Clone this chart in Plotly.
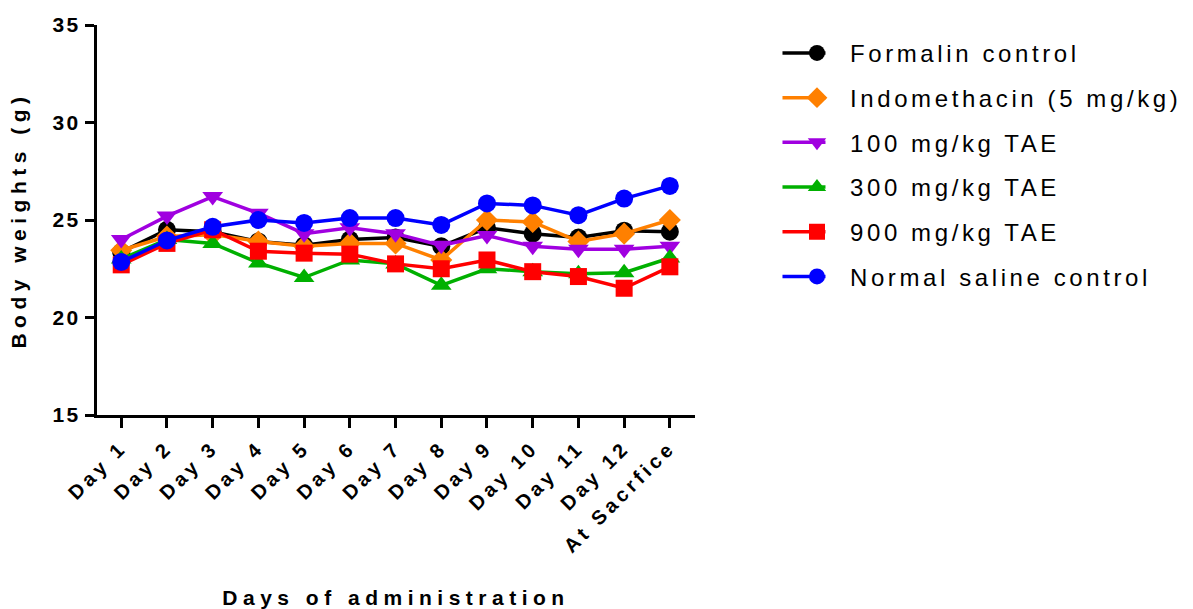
import plotly.graph_objects as go

categories = ["Day 1", "Day 2", "Day 3", "Day 4", "Day 5", "Day 6", "Day 7",
              "Day 8", "Day 9", "Day 10", "Day 11", "Day 12", "At Sacrfice"]

formalin = [23.35, 24.5, 24.4, 23.9, 23.7, 24.0, 24.1, 23.65, 24.6, 24.3, 24.1, 24.45, 24.4]
indomethacin = [23.45, 24.15, 24.25, 23.9, 23.65, 23.8, 23.8, 22.95, 25.0, 24.9, 23.9, 24.3, 25.0]
tae100 = [24.0, 25.2, 26.2, 25.35, 24.3, 24.6, 24.3, 23.7, 24.2, 23.65, 23.5, 23.5, 23.65]
tae300 = [23.0, 24.0, 23.8, 22.8, 22.05, 22.95, 22.75, 21.65, 22.5, 22.35, 22.25, 22.3, 23.05]
tae900 = [22.7, 23.8, 24.5, 23.4, 23.3, 23.25, 22.75, 22.5, 22.95, 22.35, 22.1, 21.5, 22.6]
saline = [22.85, 23.95, 24.65, 25.0, 24.85, 25.1, 25.1, 24.75, 25.85, 25.75, 25.25, 26.1, 26.75]

series_names = ["Formalin control", "Indomethacin (5 mg/kg)", "100 mg/kg TAE",
                "300 mg/kg TAE", "900 mg/kg TAE", "Normal saline control"]
series_values = [formalin, indomethacin, tae100, tae300, tae900, saline]
series_colors = ["#000000", "#FF8000", "#A000E0", "#00B000", "#FF0000", "#0000FF"]
series_symbols = ["circle", "diamond", "triangle-down", "triangle-up", "square", "circle"]
symbol_sizes = [18, 17, 18, 18, 17, 18]

FONT = "Liberation Sans, Arial, sans-serif"

fig = go.Figure()
for i, (name, vals, col, sym, sz) in enumerate(zip(series_names, series_values, series_colors,
                                                    series_symbols, symbol_sizes)):
    fig.add_trace(go.Scatter(
        x=categories, y=vals, name=name, mode="lines+markers",
        line=dict(color=col, width=3.5),
        marker=dict(color=col, symbol=sym, size=sz, line=dict(width=0)),
        legendgroup="g%d" % i,
        cliponaxis=False,
    ))

fig.update_layout(
    width=1193, height=609,
    margin=dict(l=97, r=498, t=25, b=194, autoexpand=False),
    paper_bgcolor="white", plot_bgcolor="white",
    font=dict(family=FONT, color="black"),
    showlegend=True,
    legend=dict(
        x=1.1488, y=0.985, xanchor="left", yanchor="top",
        font=dict(family=FONT, size=24, color="black"),
        tracegroupgap=10.5,
        itemwidth=56,
        bgcolor="rgba(0,0,0,0)",
    ),
    xaxis=dict(
        type="category",
        range=[-0.53, 12.55],
        automargin=False,
        showline=True, linecolor="black", linewidth=3,
        ticks="outside", ticklen=10, tickwidth=3, tickcolor="black",
        tickangle=-45,
        tickfont=dict(family=FONT, size=20, color="black", weight="bold"),
        showgrid=False, zeroline=False,
        title=dict(text="Days of administration",
                   font=dict(family=FONT, size=21, color="black", weight="bold"),
                   standoff=76),
    ),
    yaxis=dict(
        range=[15, 35],
        automargin=False,
        tickvals=[15, 20, 25, 30, 35],
        showline=True, linecolor="black", linewidth=3,
        ticks="outside", ticklen=9, tickwidth=3, tickcolor="black",
        tickfont=dict(family=FONT, size=21, color="black", weight="bold"),
        showgrid=False, zeroline=False,
        title=dict(text="Body weights (g)",
                   font=dict(family=FONT, size=21, color="black", weight="bold"),
                   standoff=26),
    ),
)

post = """
document.body.style.margin = '0';
document.body.style.padding = '0';
var gd = document.getElementById('{plot_id}');
function applySpacing(){
  gd.querySelectorAll('.legendtext').forEach(function(e){ e.style.letterSpacing='3.6px'; });
  gd.querySelectorAll('.xtitle, .ytitle').forEach(function(e){ e.style.letterSpacing='5.5px'; });
  gd.querySelectorAll('.xtick text').forEach(function(e){ e.style.letterSpacing='4px'; });
  gd.querySelectorAll('.ytick text').forEach(function(e){ e.style.letterSpacing='2.5px'; });
  gd.querySelectorAll('.legend .scrollbox').forEach(function(e){ e.removeAttribute('clip-path'); });
  gd.querySelectorAll('.legendlines path').forEach(function(p){ p.setAttribute('d','M-1.5,0h43'); });
}
applySpacing();
gd.on('plotly_afterplot', applySpacing);
"""

fig.write_html("out.html", post_script=post, config={"displayModeBar": False})
